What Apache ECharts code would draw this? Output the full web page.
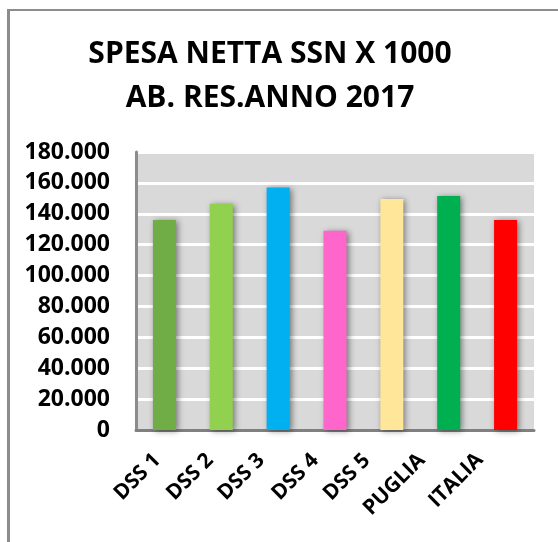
<!DOCTYPE html>
<html>
<head>
<meta charset="utf-8">
<script src="https://cdn.jsdelivr.net/npm/echarts@6/dist/echarts.min.js"></script>
<style>
  html, body { margin: 0; padding: 0; background: #fff; }
  #chart { width: 558px; height: 542px; }
</style>
</head>
<body>
<div id="chart"></div>
<script>
var categories = ['DSS 1', 'DSS 2', 'DSS 3', 'DSS 4', 'DSS 5', 'PUGLIA', 'ITALIA'];
var values = [136000, 146500, 157000, 129000, 149500, 151500, 136000];
var barColors = ['#70AD47', '#92D050', '#00B0F0', '#FF66CC', '#FFE699', '#00B050', '#FF0000'];

// italian thousands separator
function fmt(v) {
  return String(v).replace(/\B(?=(\d{3})+(?!\d))/g, '.');
}

var chart = echarts.init(document.getElementById('chart'));
var font = '"Open Sans", "DejaVu Sans", sans-serif';

// the excel labels drift left of their bars; shift each one a bit
var labelShift = [7, 11, 17, 20, 25, 27, 26];
var rich = {};
labelShift.forEach(function (d, i) {
  rich['s' + i] = {
    fontFamily: font,
    fontWeight: 'bold',
    fontSize: 21,
    color: '#000',
    padding: [0, Math.round(d * 0.707), Math.round(d * 1.414), 0]
  };
});

chart.setOption({
  animation: false,
  title: {
    text: 'SPESA NETTA SSN X 1000\nAB. RES.ANNO 2017',
    left: 265,
    top: 27,
    textAlign: 'center',
    textStyle: {
      fontFamily: font,
      fontWeight: 'bold',
      fontSize: 30,
      lineHeight: 44,
      color: '#000'
    }
  },
  graphic: [
    { type: 'rect', shape: { x: 8, y: 9, width: 550, height: 2 }, style: { fill: '#8c8c8c' } },
    { type: 'rect', shape: { x: 7, y: 9, width: 3, height: 533 }, style: { fill: '#8c8c8c' } }
  ],
  grid: {
    left: 136,
    right: 24,
    top: 152,
    bottom: 112,
    show: true,
    backgroundColor: '#D9D9D9',
    borderWidth: 0
  },
  xAxis: {
    type: 'category',
    data: categories,
    axisTick: { show: false },
    axisLine: { lineStyle: { color: '#808080', width: 3 } },
    axisLabel: {
      rotate: 45,
      margin: 27,
      interval: 0,
      formatter: function (v, i) { return '{s' + i + '|' + v + '}'; },
      rich: rich
    }
  },
  yAxis: {
    type: 'value',
    min: 0,
    max: 180000,
    interval: 20000,
    axisLine: { show: true, lineStyle: { color: '#8c8c8c', width: 3 } },
    axisTick: { show: false },
    splitLine: { lineStyle: { color: '#ffffff', width: 3 } },
    axisLabel: {
      margin: 26,
      formatter: fmt,
      fontFamily: font,
      fontWeight: 'bold',
      fontSize: 23,
      color: '#000'
    }
  },
  series: [{
    type: 'bar',
    barWidth: 23,
    data: values.map(function (v, i) {
      return { value: v, itemStyle: { color: barColors[i] } };
    }),
    itemStyle: {
      shadowColor: 'rgba(0,0,0,0.45)',
      shadowBlur: 6,
      shadowOffsetX: 2,
      shadowOffsetY: 1
    }
  }]
});
</script>
</body>
</html>
